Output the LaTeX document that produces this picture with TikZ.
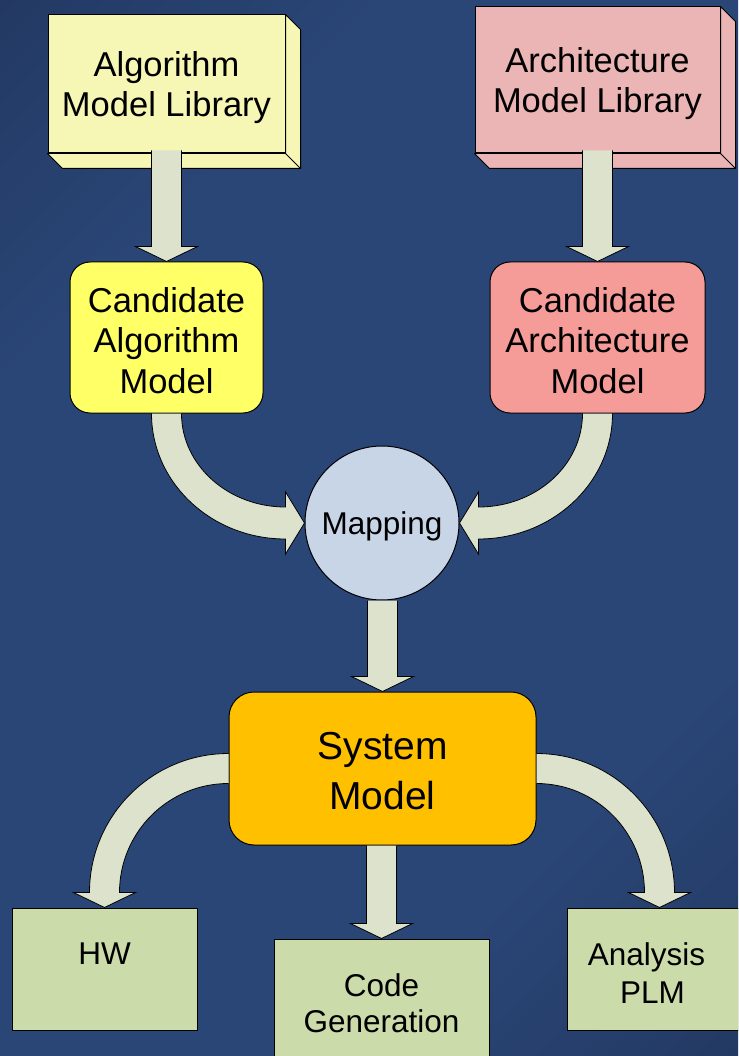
\documentclass[tikz,border=0pt]{standalone}
\usepackage{fontspec}
\setmainfont{Liberation Sans}
\usetikzlibrary{calc}

\definecolor{bgmid}{HTML}{2A4676}
\definecolor{bgdark}{HTML}{1C2D52}
\definecolor{algfill}{HTML}{F7F7B5}
\definecolor{archfill}{HTML}{EBB5B5}
\definecolor{candalgfill}{HTML}{FFFF66}
\definecolor{candarchfill}{HTML}{F59C99}
\definecolor{mapfill}{HTML}{C8D5E6}
\definecolor{sysfill}{HTML}{FFC000}
\definecolor{outfill}{HTML}{CCDBAA}
\definecolor{arrowfill}{HTML}{DDE2CC}

\pgfdeclareverticalshading{slidebg}{100bp}{color(0bp)=(bgdark); color(30bp)=(bgmid); color(70bp)=(bgmid); color(100bp)=(bgdark)}

% taller first line, so the text sits a little lower in its box
\newcommand{\lift}[1]{\rule{0pt}{#1}}
% straight block arrow, shaft from #1 down to the tip #2
\newcommand{\blockdown}[2]{%
  \path[blockarrow] let \p1=(#1), \p2=(#2) in
    (\x2-15pt,\y1) -- (\x2-15pt,\y2+15pt) -- (\x2-31pt,\y2+15pt) -- (\x2,\y2)
    -- (\x2+31pt,\y2+15pt) -- (\x2+15pt,\y2+15pt) -- (\x2+15pt,\y1);}
% bent block arrow from #1 (above) into #2; #3=1 from the left, -1 from the right
\newcommand{\bendin}[3]{%
  \path[blockarrow] let \p1=(#1), \p2=(#2) in
    ({\x1-15pt*(#3)},\y1)
    arc[start angle={90+90*(#3)}, end angle={90+180*(#3)}, x radius={(#3)*(\x2-\x1)-4pt}, y radius={(\y1)-(\y2)+16pt}]
    -- ({\x2-19pt*(#3)},\y2-31pt) -- (\x2,\y2) -- ({\x2-19pt*(#3)},\y2+31pt) -- ({\x2-19pt*(#3)},\y2+16pt)
    arc[start angle={90+180*(#3)}, end angle={90+90*(#3)}, x radius={(#3)*(\x2-\x1)-34pt}, y radius={(\y1)-(\y2)-16pt}];}
% bent block arrow out of the side #1 down to #2; #3=1 to the left, -1 to the right
\newcommand{\bendout}[3]{%
  \path[blockarrow] let \p1=(#1), \p2=(#2) in
    (\x1,\y1+15pt)
    arc[start angle=90, end angle={90+90*(#3)}, x radius={(#3)*(\x1-\x2)+15pt}, y radius={(\y1)-(\y2)}]
    -- ({\x2-31pt*(#3)},\y2+15pt) -- (\x2,\y2) -- ({\x2+31pt*(#3)},\y2+15pt) -- ({\x2+15pt*(#3)},\y2+15pt)
    arc[start angle={90+90*(#3)}, end angle=90, x radius={(#3)*(\x1-\x2)-15pt}, y radius={(\y1)-(\y2)-30pt}];}
% side and bottom faces of a library box
\newcommand{\libdepth}[2]{%
  \path[libside, fill=#2] (#1.north east) -- ++(15,15) -- ($(#1.south east)+(15,15)$)
    -- ($(#1.south west)+(15,15)$) -- (#1.south west) -- (#1.south east) -- cycle;
  \draw[libside] (#1.south east) -- ++(15,15);}

\begin{document}
\begin{tikzpicture}[x=1pt, y=-1pt,
  box/.style={draw=black, line width=1pt, text=black, align=center, inner sep=0pt},
  libbox/.style={box, font=\fontsize{34.5}{40}\selectfont},
  libside/.style={draw=black, line width=1pt, line join=round},
  candbox/.style={box, rounded corners=20pt, minimum height=151pt, font=\fontsize{34.5}{40.5}\selectfont},
  outbox/.style={box, fill=outfill, minimum width=185pt, minimum height=122pt},
  outtext/.style={anchor=north, inner sep=0pt, align=center, text=black, font=\fontsize{31.5}{38}\selectfont, yshift=-35pt},
  blockarrow/.style={fill=arrowfill, draw=black, line width=0.8pt}]
  \useasboundingbox (0,0) rectangle (738,1056);
  \clip (0,0) rectangle (738,1056);
  \shade[shading=slidebg, shading angle=45] (0,0) rectangle (738,1056);

  \node[libbox, fill=algfill, minimum width=237pt, minimum height=138pt] (alglib) at (166.5,84) {\lift{32pt}Algorithm\\Model Library};
  \node[libbox, fill=archfill, minimum width=245pt, minimum height=146pt] (archlib) at (597.5,80) {\lift{32pt}Architecture\\Model Library};
  \libdepth{alglib}{algfill}
  \libdepth{archlib}{archfill}

  \node[candbox, fill=candalgfill, minimum width=193pt] (candalg) at (166.5,337.5) {\lift{31pt}Candidate\\Algorithm\\Model};
  \node[candbox, fill=candarchfill, minimum width=215pt] (candarch) at (597.5,337.5) {\lift{31pt}Candidate\\Architecture\\Model};
  \node[box, circle, fill=mapfill, minimum size=154pt, text depth=0pt, font=\fontsize{31.5}{37}\selectfont] (map) at (382,523) {Mapping};
  \node[box, fill=sysfill, rounded corners=25pt, minimum width=307pt, minimum height=153pt, font=\fontsize{39}{50}\selectfont] (sys) at (382.5,768.5) {\lift{32.5pt}System\\Model};
  \node[outbox, label={[outtext]north:HW}] (hw) at (104.5,969) {};
  \node[outbox, minimum width=215pt, label={[outtext, font=\fontsize{31.5}{36}\selectfont]north:Code\\Generation}] (code) at (381.5,1000) {};
  \node[outbox, label={[outtext, xshift=-13pt]north:Analysis\\\hspace*{12pt}PLM}] (plm) at (659.5,969) {};

  \blockdown{$(alglib.south)+(0,-3)$}{candalg.north}
  \blockdown{$(archlib.south)+(0,-3)$}{candarch.north}
  \bendin{candalg.south}{map.west}{1}
  \bendin{candarch.south}{map.east}{-1}
  \blockdown{map.south}{sys.north}
  \blockdown{sys.south}{code.north}
  \bendout{sys.west}{hw.north}{1}
  \bendout{sys.east}{plm.north}{-1}
\end{tikzpicture}
\end{document}
